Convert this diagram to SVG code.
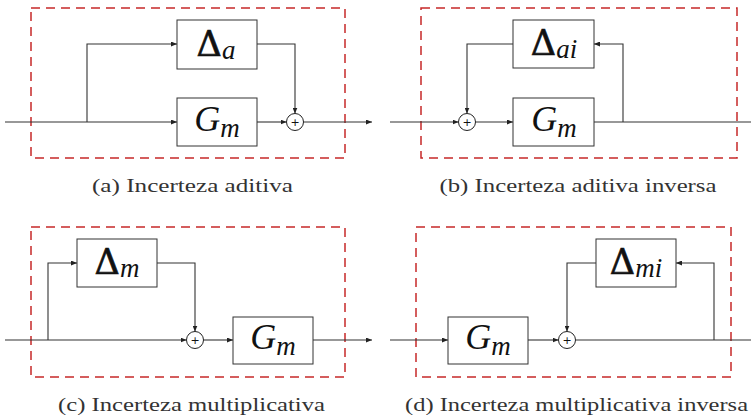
<svg xmlns="http://www.w3.org/2000/svg" width="751" height="417" viewBox="0 0 751 417">
<defs>
<marker id="arr" viewBox="0 0 6 5" markerWidth="6" markerHeight="5" refX="6" refY="2.5" orient="auto" markerUnits="userSpaceOnUse">
<path d="M0,0 L6,2.5 L0,5 z" fill="#222"/>
</marker>
<style>
.frame{fill:none;stroke:#c62828;stroke-width:1.5;stroke-dasharray:9,6}
.box{fill:#fff;stroke:#333;stroke-width:1}
.sum{fill:#fff;stroke:#222;stroke-width:1}
.wire{fill:none;stroke:#333;stroke-width:1.1}
.arrow{marker-end:url(#arr)}
.lbl{font-family:"Liberation Serif","DejaVu Serif",serif;fill:#111;text-anchor:middle}
.up{font-family:"DejaVu Serif",serif;font-size:35px;stroke:#111;stroke-width:0.7}
.mi{font-family:"Liberation Serif",serif;font-style:italic;font-size:36px}
.sub{font-family:"Liberation Serif",serif;font-style:italic;font-size:27px}
.plus{font-family:"DejaVu Sans",sans-serif;font-size:11px;text-anchor:middle;fill:#111}
.cap{font-family:"Liberation Serif",serif;font-size:19px;fill:#333;text-anchor:middle}
</style>
</defs>
<rect width="751" height="417" fill="#fff"/>

<g id="frames">
<rect class="frame" x="31" y="8" width="314" height="150"/>
<rect class="frame" x="421" y="8" width="316" height="150"/>
<rect class="frame" x="31" y="227" width="314" height="150"/>
<rect class="frame" x="416" y="227" width="315" height="150"/>
</g>

<g id="connectors">
<!-- (a) -->
<path class="wire arrow" d="M5,122 H177"/>
<path class="wire arrow" d="M87,122 V44 H177"/>
<path class="wire arrow" d="M257,44 H295 V113.5"/>
<path class="wire arrow" d="M257,122 H286.5"/>
<path class="wire arrow" d="M303.5,122 H372"/>
<!-- (b) -->
<path class="wire arrow" d="M390,122 H458.5"/>
<path class="wire arrow" d="M475.5,122 H513"/>
<path class="wire" d="M594,122 H751"/>
<path class="wire arrow" d="M623,122 V44 H594"/>
<path class="wire arrow" d="M513,44 H467 V113.5"/>
<!-- (c) -->
<path class="wire arrow" d="M5,340 H186.5"/>
<path class="wire arrow" d="M48,340 V263 H77"/>
<path class="wire arrow" d="M157,263 H195 V331.5"/>
<path class="wire arrow" d="M203.5,340 H233"/>
<path class="wire arrow" d="M313,340 H372"/>
<!-- (d) -->
<path class="wire arrow" d="M390,340 H448"/>
<path class="wire arrow" d="M528,340 H558.5"/>
<path class="wire" d="M575.5,340 H751"/>
<path class="wire arrow" d="M714,340 V263 H676"/>
<path class="wire arrow" d="M596,263 H567 V331.5"/>
</g>

<g id="a-delta">
<rect class="box" x="177" y="20" width="80" height="49"/>
<text class="lbl" x="216" y="56"><tspan class="up">Δ</tspan><tspan class="sub" dy="3">a</tspan></text>
</g>
<g id="a-gm">
<rect class="box" x="177" y="98" width="80" height="48"/>
<text class="lbl" x="217" y="131"><tspan class="mi">G</tspan><tspan class="sub" dy="6">m</tspan></text>
</g>
<g id="a-sum">
<circle class="sum" cx="295" cy="122" r="8.5"/>
<text class="plus" x="295" y="126">+</text>
</g>
<g id="a-caption"><text class="cap" x="192.5" y="192" textLength="201" lengthAdjust="spacingAndGlyphs">(a) Incerteza aditiva</text></g>

<g id="b-delta">
<rect class="box" x="513" y="20" width="81" height="48"/>
<text class="lbl" x="554" y="55"><tspan class="up">Δ</tspan><tspan class="sub" dy="3">ai</tspan></text>
</g>
<g id="b-gm">
<rect class="box" x="513" y="98" width="81" height="48"/>
<text class="lbl" x="554" y="131"><tspan class="mi">G</tspan><tspan class="sub" dy="6">m</tspan></text>
</g>
<g id="b-sum">
<circle class="sum" cx="467" cy="122" r="8.5"/>
<text class="plus" x="467" y="126">+</text>
</g>
<g id="b-caption"><text class="cap" x="578" y="192" textLength="277" lengthAdjust="spacingAndGlyphs">(b) Incerteza aditiva inversa</text></g>

<g id="c-delta">
<rect class="box" x="77" y="239" width="80" height="48"/>
<text class="lbl" x="117" y="274"><tspan class="up">Δ</tspan><tspan class="sub" dy="3">m</tspan></text>
</g>
<g id="c-gm">
<rect class="box" x="233" y="317" width="80" height="47"/>
<text class="lbl" x="273" y="349"><tspan class="mi">G</tspan><tspan class="sub" dy="6">m</tspan></text>
</g>
<g id="c-sum">
<circle class="sum" cx="195" cy="340" r="8.5"/>
<text class="plus" x="195" y="344">+</text>
</g>
<g id="c-caption"><text class="cap" x="191.5" y="411" textLength="267" lengthAdjust="spacingAndGlyphs">(c) Incerteza multiplicativa</text></g>

<g id="d-delta">
<rect class="box" x="596" y="239" width="80" height="48"/>
<text class="lbl" x="636" y="274"><tspan class="up">Δ</tspan><tspan class="sub" dy="3">mi</tspan></text>
</g>
<g id="d-gm">
<rect class="box" x="448" y="317" width="80" height="47"/>
<text class="lbl" x="488" y="349"><tspan class="mi">G</tspan><tspan class="sub" dy="6">m</tspan></text>
</g>
<g id="d-sum">
<circle class="sum" cx="567" cy="340" r="8.5"/>
<text class="plus" x="567" y="344">+</text>
</g>
<g id="d-caption"><text class="cap" x="576.5" y="411" textLength="343" lengthAdjust="spacingAndGlyphs">(d) Incerteza multiplicativa inversa</text></g>
</svg>
